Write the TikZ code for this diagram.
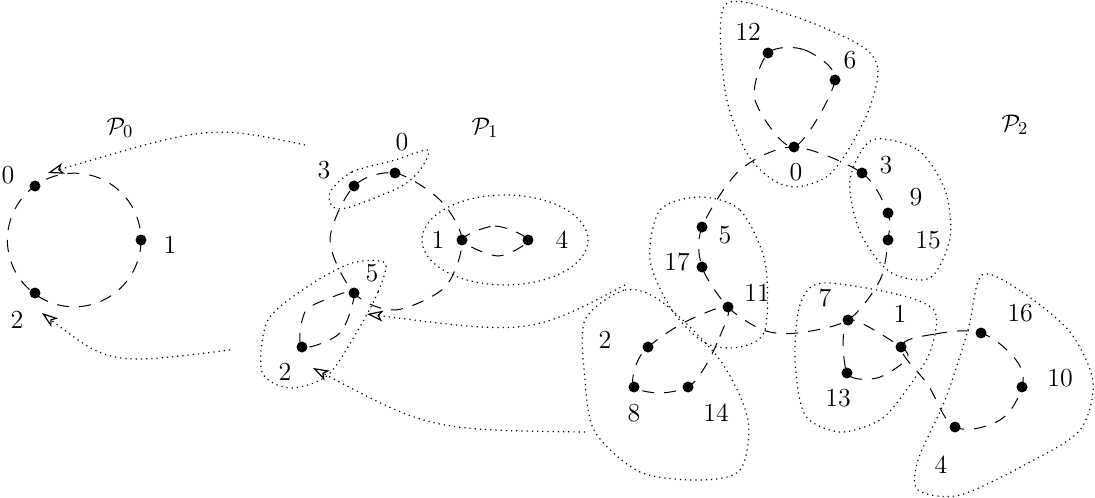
\documentclass[tikz,border=0pt]{standalone}
\usetikzlibrary{arrows.meta}
\begin{document}
\begin{tikzpicture}[x=0.5pt,y=-0.5pt,
  v/.style={circle,fill=black,inner sep=0pt,minimum size=5.5pt},
  lab/.style={font=\fontsize{13}{15}\selectfont},
  cyc/.style={dashed,dash pattern=on 6pt off 5pt,line width=0.5pt},
  hull/.style={dotted,line width=0.6pt},
  arr/.style={dotted,line width=0.6pt,-{Stealth[open,length=8pt,width=5.5pt,inset=2pt]}}]
\useasboundingbox (0,0) rectangle (1095,497);
% P0
\node[v] (a0) at (35,186) {}; \node[v] (a1) at (141,240) {}; \node[v] (a2) at (35,293) {};
\node[lab] (la0) at (8,175) {0}; \node[lab] (la1) at (170,245) {1}; \node[lab] (la2) at (17,320) {2};
\node[lab] (P0) at (120,128) {$\mathcal{P}_0$};
\draw[cyc] (74.2,240) circle (66.8);
% P1
\node[v] (b3) at (354,186) {}; \node[v] (b0) at (395,173) {}; \node[v] (b1) at (462,240) {};
\node[v] (b4) at (528,240) {}; \node[v] (b5) at (354,293) {}; \node[v] (b2) at (302,347) {};
\node[lab] (lb3) at (324,170) {3}; \node[lab] (lb0) at (402,142) {0}; \node[lab] (lb1) at (438,240) {1};
\node[lab] (lb4) at (562,240) {4}; \node[lab] (lb5) at (372,273) {5}; \node[lab] (lb2) at (285,372) {2};
\node[lab] (P1) at (485,128) {$\mathcal{P}_1$};
\draw[cyc] plot[smooth cycle] coordinates {(354,186)(395,173)(440,200)(462,240)(445,287)(395,310)(354,293)(330,240)};
\draw[cyc] plot[smooth cycle] coordinates {(462,240)(495,226)(528,240)(498,256)};
\draw[cyc] plot[smooth cycle] coordinates {(354,293)(340,333)(302,347)(305,312)(330,298)};
\draw[hull] plot[smooth cycle] coordinates {(330,192)(352,172)(395,160)(428,150)(420,170)(400,187)(350,207)(333,207)};
\draw[hull] (505,240) ellipse (83 and 45);
\draw[hull] plot[smooth cycle] coordinates {(385,263)(378,292)(358,330)(328,375)(290,388)(262,372)(268,320)(310,285)(352,263)};
% P2
\node[v] (c12) at (768,53) {}; \node[v] (c6) at (835,80) {}; \node[v] (c0) at (794,147) {};
\node[v] (c3) at (862,173) {}; \node[v] (c9) at (888,213) {}; \node[v] (c15) at (888,240) {};
\node[v] (c5) at (702,227) {}; \node[v] (c17) at (702,267) {}; \node[v] (c11) at (728,307) {};
\node[v] (c7) at (848,320) {}; \node[v] (c1) at (901,347) {}; \node[v] (c2) at (648,347) {};
\node[v] (c8) at (634,387) {}; \node[v] (c14) at (688,387) {}; \node[v] (c13) at (847,373) {};
\node[v] (c16) at (981,333) {}; \node[v] (c10) at (1022,387) {}; \node[v] (c4) at (955,427) {};
\node[lab] at (748,32) {12}; \node[lab] at (850,60) {6}; \node[lab] at (796,172) {0};
\node[lab] at (886,165) {3}; \node[lab] at (916,197) {9}; \node[lab] at (928,240) {15};
\node[lab] at (725,235) {5}; \node[lab] at (677,262) {17}; \node[lab] at (757,293) {11};
\node[lab] at (825,298) {7}; \node[lab] at (900,314) {1}; \node[lab] at (605,340) {2};
\node[lab] at (634,413) {8}; \node[lab] at (716,413) {14}; \node[lab] at (838,398) {13};
\node[lab] at (1020,313) {16}; \node[lab] at (1060,378) {10}; \node[lab] at (941,465) {4};
\node[lab] (P2) at (1015,125) {$\mathcal{P}_2$};
\draw[cyc] plot[smooth cycle] coordinates {(768,53)(805,50)(835,80)(794,147)(755,100)};
\draw[cyc] plot[smooth cycle, tension=0.5] coordinates {(794,147)(862,173)(888,213)(888,240)(880,280)(848,320)(797,333)(763,330)(728,307)(702,267)(702,227)(740,170)};
\draw[cyc] plot[smooth cycle] coordinates {(848,320)(901,347)(906,360)(877,378)(847,373)};
\draw[cyc] plot[smooth cycle, tension=0.5] coordinates {(728,307)(717,343)(703,370)(688,387)(660,393)(634,387)(636,365)(648,347)(685,322)};
\draw[cyc] plot[smooth cycle, tension=0.6] coordinates {(901,347)(935,334)(981,333)(1016,360)(1022,387)(1000,420)(955,427)(928,385)};
\draw[hull] plot[smooth cycle] coordinates {(725,5)(790,15)(860,45)(878,70)(868,112)(845,155)(825,178)(795,187)(770,178)(745,150)(725,90)};
\draw[hull] plot[smooth cycle] coordinates {(872,140)(918,150)(945,190)(950,238)(930,278)(890,272)(860,232)(850,180)};
\draw[hull] plot[smooth cycle] coordinates {(700,197)(740,210)(765,262)(765,330)(740,347)(705,343)(672,310)(650,260)(660,210)};
\draw[hull] plot[smooth cycle] coordinates {(585,320)(625,290)(662,302)(720,360)(748,420)(740,470)(700,480)(640,472)(595,432)(585,380)};
\draw[hull] plot[smooth cycle] coordinates {(822,283)(900,295)(935,312)(930,352)(905,392)(880,420)(840,432)(805,415)(795,360)(800,305)};
\draw[hull] plot[smooth cycle] coordinates {(982,275)(1022,292)(1070,332)(1093,382)(1080,430)(1030,462)(960,495)(918,490)(918,460)(945,400)(968,330)};
% arrows
\coordinate (s1) at (305,145); \coordinate (t1) at (48,173);
\coordinate (s2) at (230,350); \coordinate (t2) at (42,313);
\coordinate (s3) at (625,285); \coordinate (t3) at (367,314);
\coordinate (s4) at (585,432); \coordinate (t4) at (313,368);
\draw[arr] (s1) .. controls (210,125) .. (t1);
\draw[arr] (s2) .. controls (110,365) .. (t2);
\draw[arr] (s3) .. controls (530,335) .. (t3);
\draw[arr] (s4) .. controls (430,430) .. (t4);
\end{tikzpicture}
\end{document}
